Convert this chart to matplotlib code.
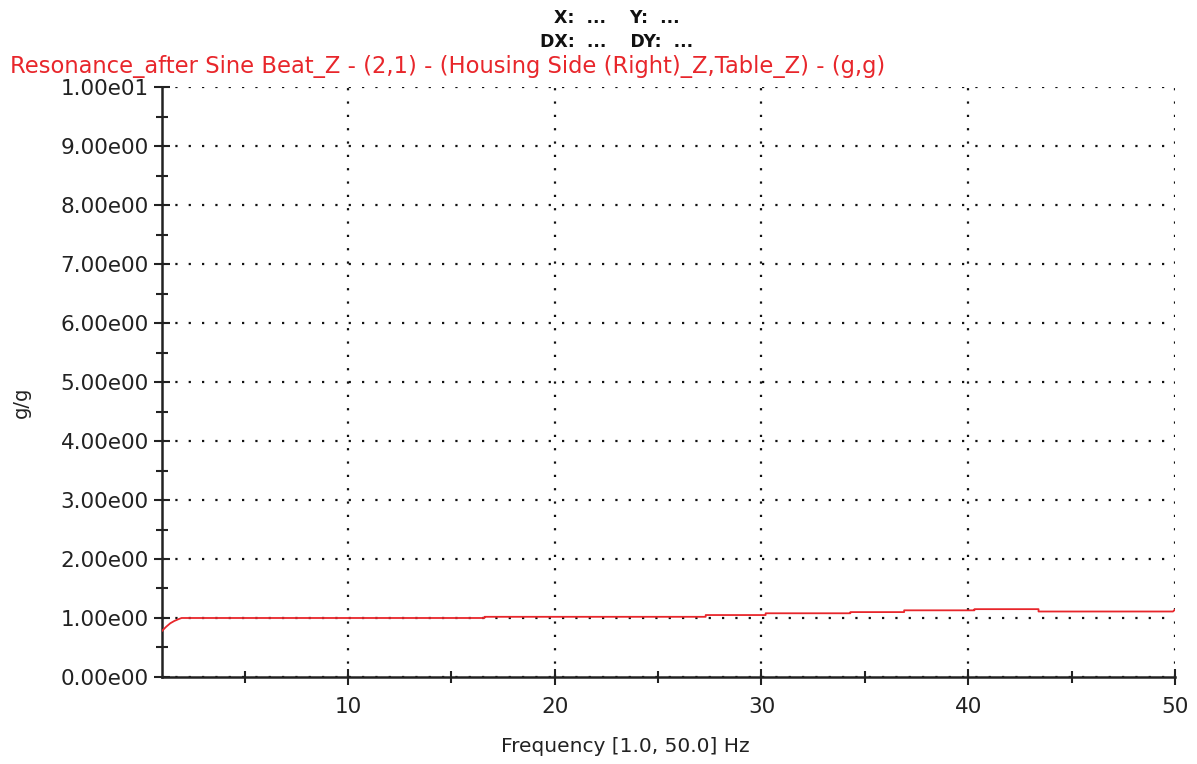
import matplotlib.pyplot as plt
from matplotlib.ticker import MultipleLocator, FuncFormatter

# DATA ######
# frequency breakpoints [Hz] and transmissibility [g/g]
freq = [1.0, 1.2, 1.4, 1.6, 1.8, 1.95,
        16.6, 16.6, 27.3, 27.3, 30.2, 30.2, 34.3, 34.3,
        36.9, 36.9, 40.3, 40.3, 43.4, 43.4, 49.9, 50.0]
gain = [0.78, 0.85, 0.91, 0.95, 0.98, 1.00,
        1.00, 1.02, 1.02, 1.05, 1.05, 1.08, 1.08, 1.10,
        1.10, 1.13, 1.13, 1.15, 1.15, 1.11, 1.11, 1.14]

titulo = 'Resonance_after Sine Beat_Z - (2,1) - (Housing Side (Right)_Z,Table_Z) - (g,g)'

# PLOT ######
plt.rcParams['font.family'] = ['DejaVu Sans']

fig = plt.figure(figsize=(11.97, 7.64), dpi=100)
ax = fig.add_axes([0.1353, 0.1139, 0.9816 - 0.1353, 0.886 - 0.1139])

ax.plot(freq, gain, color='#e8262b', lw=1.3, zorder=3)

ax.set_xlim(1, 50)
ax.set_ylim(0, 10)
ax.xaxis.set_major_locator(MultipleLocator(10))
ax.xaxis.set_minor_locator(MultipleLocator(5))
ax.yaxis.set_major_locator(MultipleLocator(1))
ax.yaxis.set_minor_locator(MultipleLocator(0.5))
ax.yaxis.set_major_formatter(FuncFormatter(lambda v, p: '{:.2e}'.format(v).replace('e+', 'e')))

for s in ['top', 'right']:
    ax.spines[s].set_visible(False)
for s in ['left', 'bottom']:
    ax.spines[s].set_linewidth(1.8)
    ax.spines[s].set_color('#222222')

ax.tick_params(which='both', direction='inout', color='#222222', width=1.5)
ax.tick_params(which='major', length=11, labelsize=15.5, labelcolor='#222222')
ax.tick_params(which='minor', length=9)
ax.tick_params(axis='x', pad=9)
ax.tick_params(axis='y', pad=4)

ax.grid(True, which='major', color='#111111', linestyle=(0, (1, 5)), lw=1.6)

fig.text(625 / 1197, 1 - 746 / 764, 'Frequency [1.0, 50.0] Hz', ha='center', va='center',
         fontsize=14.5, color='#222222')
fig.text(21 / 1197, 1 - 402 / 764, 'g/g', ha='center', va='center', rotation=90,
         fontsize=14, color='#222222')

fig.text(617 / 1197, 1 - 18 / 764, 'X:  ...    Y:  ...', ha='center', va='center',
         fontsize=12.5, fontweight='bold', color='#111111')
fig.text(617 / 1197, 1 - 42 / 764, 'DX:  ...    DY:  ...', ha='center', va='center',
         fontsize=12.5, fontweight='bold', color='#111111')
fig.text(10 / 1197, 1 - 66 / 764, titulo, ha='left', va='center', fontsize=16.3, color='#e8262b')

fig.savefig('out.png', dpi=100)
